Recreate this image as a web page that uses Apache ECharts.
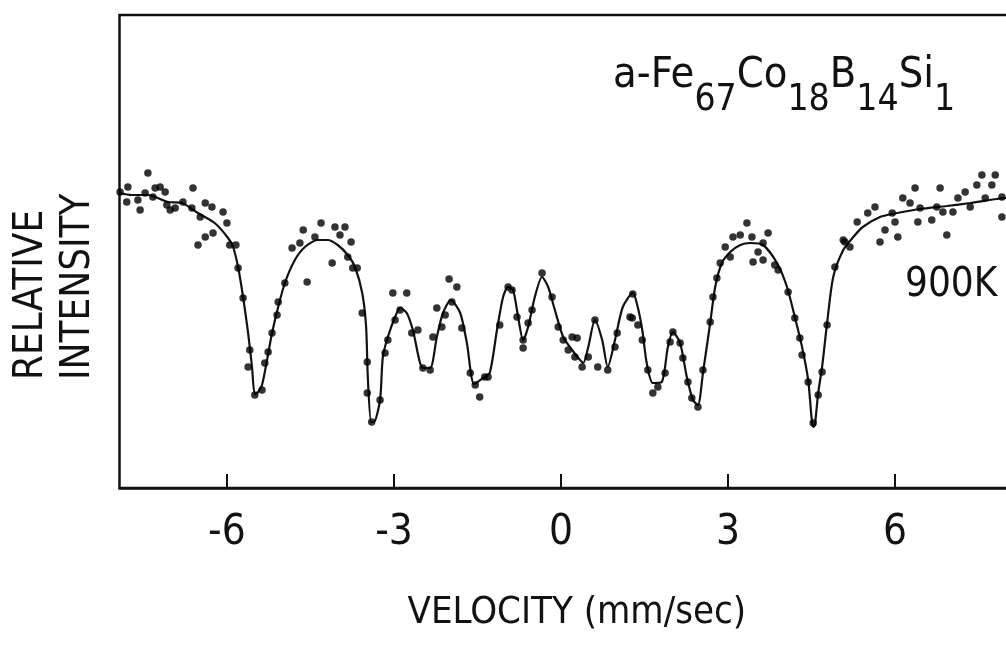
<!DOCTYPE html>
<html>
<head>
<meta charset="utf-8">
<script src="https://cdn.jsdelivr.net/npm/echarts@6/dist/echarts.min.js"></script>
<style>
  html, body { margin: 0; padding: 0; background: #ffffff; }
  #chart { width: 1006px; height: 646px; }
</style>
</head>
<body>
<div id="chart"></div>
<script>
// ---- Data (velocity in mm/s, relative intensity in arbitrary units) ----
const tickValues = [-6, -3, 0, 3, 6];

// fitted curve
const curveV = [-7.93, -7.71, -7.42, -7.06, -6.81, -6.52, -6.22, -5.98, -5.89, -5.80,
  -5.71, -5.62, -5.55, -5.50, -5.44, -5.37, -5.28, -5.19, -5.08, -4.96,
  -4.78, -4.60, -4.37, -4.19, -4.01, -3.83, -3.70, -3.57, -3.50, -3.47,
  -3.41, -3.36, -3.25, -3.20, -3.11, -2.98, -2.89, -2.77, -2.66, -2.48,
  -2.35, -2.23, -2.12, -1.98, -1.81, -1.69, -1.56, -1.40, -1.28, -1.15,
  -1.04, -0.95, -0.86, -0.77, -0.68, -0.59, -0.47, -0.34, -0.23, -0.11,
  0.04, 0.20, 0.31, 0.40, 0.49, 0.61, 0.74, 0.84, 0.97, 1.11,
  1.29, 1.37, 1.46, 1.54, 1.65, 1.81, 1.92, 2.01, 2.14, 2.26,
  2.37, 2.46, 2.55, 2.68, 2.77, 2.89, 3.04, 3.22, 3.40, 3.63,
  3.88, 4.06, 4.20, 4.33, 4.44, 4.53, 4.56, 4.62, 4.69, 4.78,
  4.89, 5.07, 5.25, 5.42, 5.73, 6.04, 6.45, 6.93, 7.35, 7.83,
  8.5];
const curveI = [59.0, 58.6, 58.6, 57.2, 57.0, 55.0, 53.0, 50.0, 48.2, 44.2,
  38.2, 31.0, 24.2, 18.8, 19.2, 20.6, 25.6, 31.0, 36.2, 41.0,
  45.6, 48.2, 49.6, 49.6, 48.6, 46.6, 44.2, 39.0, 32.2, 22.2,
  13.2, 13.2, 17.6, 26.2, 30.2, 34.2, 36.0, 35.0, 31.6, 24.0,
  24.0, 30.2, 35.0, 37.6, 35.0, 29.0, 20.8, 22.0, 23.0, 31.6,
  38.2, 40.2, 39.6, 34.2, 29.6, 32.2, 38.2, 42.2, 40.2, 35.6,
  30.2, 27.6, 26.0, 25.0, 28.2, 33.6, 29.6, 24.2, 29.6, 36.2,
  39.0, 36.6, 31.6, 25.0, 21.0, 21.2, 28.2, 31.2, 29.0, 22.2,
  17.6, 16.6, 23.0, 33.0, 40.2, 45.0, 47.2, 48.6, 49.0, 48.6,
  45.0, 40.2, 34.2, 28.2, 21.6, 12.2, 12.6, 19.0, 24.2, 33.0,
  42.2, 47.6, 50.2, 52.2, 54.2, 55.0, 55.8, 56.4, 57.0, 57.8,
  58.6];

// measured points
const pointsV = [-7.92, -7.78, -7.80, -7.60, -7.56, -7.47, -7.42, -7.33, -7.29, -7.20,
  -7.11, -7.08, -7.02, -6.93, -6.79, -6.63, -6.61, -6.52, -6.48, -6.39,
  -6.39, -6.27, -6.25, -6.07, -6.00, -5.95, -5.84, -5.80, -5.71, -5.62,
  -5.59, -5.50, -5.37, -5.32, -5.26, -5.19, -5.10, -5.08, -4.96, -4.83,
  -4.69, -4.63, -4.56, -4.42, -4.31, -4.11, -4.06, -3.97, -3.88, -3.77,
  -3.83, -3.74, -3.66, -3.57, -3.48, -3.48, -3.40, -3.25, -3.16, -3.11,
  -3.02, -2.98, -2.89, -2.77, -2.68, -2.57, -2.48, -2.35, -2.30, -2.23,
  -2.14, -2.08, -2.01, -1.96, -1.87, -1.78, -1.63, -1.54, -1.46, -1.37,
  -1.31, -1.10, -0.95, -0.88, -0.79, -0.68, -0.68, -0.59, -0.52, -0.34,
  -0.16, -0.05, 0.04, 0.13, 0.20, 0.29, 0.25, 0.38, 0.49, 0.61,
  0.66, 0.84, 0.97, 1.01, 1.24, 1.29, 1.28, 1.38, 1.46, 1.56,
  1.65, 1.74, 1.87, 1.96, 2.01, 2.14, 2.19, 2.28, 2.35, 2.46,
  2.55, 2.68, 2.73, 2.80, 2.86, 2.95, 3.04, 3.09, 3.22, 3.34,
  3.43, 3.45, 3.54, 3.63, 3.63, 3.72, 3.84, 3.90, 4.08, 4.20,
  4.29, 4.33, 4.44, 4.53, 4.62, 4.69, 4.78, 4.92, 5.07, 5.10,
  5.19, 5.32, 5.51, 5.64, 5.73, 5.82, 5.95, 6.00, 6.05, 6.14,
  6.27, 6.36, 6.41, 6.45, 6.66, 6.75, 6.81, 6.86, 6.93, 7.04,
  7.13, 7.26, 7.35, 7.47, 7.56, 7.62, 7.74, 7.80, 7.92, 7.92];
const pointsI = [59.2, 60.2, 57.2, 57.6, 55.6, 59.0, 63.0, 58.2, 60.0, 60.2,
  59.2, 56.6, 55.6, 56.0, 57.2, 56.0, 60.0, 48.6, 54.2, 57.0,
  50.2, 56.2, 51.0, 55.2, 53.0, 48.6, 48.6, 44.0, 38.0, 24.2,
  27.6, 18.6, 19.6, 25.0, 27.2, 31.0, 34.6, 37.2, 41.0, 48.0,
  49.0, 51.6, 41.2, 50.2, 53.0, 45.0, 52.2, 50.6, 52.2, 49.2,
  46.2, 44.0, 44.0, 35.0, 25.2, 19.0, 13.2, 17.6, 27.0, 29.6,
  39.0, 33.6, 35.6, 39.0, 31.0, 31.6, 24.0, 23.6, 30.2, 36.0,
  32.2, 34.6, 41.8, 37.2, 40.2, 32.0, 23.0, 20.6, 18.2, 22.2,
  22.2, 32.6, 40.2, 39.6, 34.2, 29.6, 28.0, 33.0, 35.6, 43.0,
  38.2, 32.2, 29.6, 27.6, 30.2, 30.0, 26.2, 24.2, 26.2, 33.6,
  24.2, 23.6, 28.2, 31.0, 34.2, 38.8, 34.0, 32.6, 29.6, 23.6,
  19.0, 20.2, 23.0, 29.2, 31.2, 29.0, 26.0, 21.2, 18.0, 16.2,
  23.6, 33.2, 38.2, 42.0, 45.0, 48.2, 46.2, 50.2, 50.6, 53.0,
  50.2, 45.2, 47.2, 49.0, 45.6, 51.0, 44.6, 43.6, 39.2, 34.0,
  30.0, 26.6, 21.2, 13.0, 18.6, 23.2, 32.6, 44.2, 49.6, 49.2,
  48.2, 53.2, 55.0, 56.2, 49.2, 51.6, 55.0, 53.2, 50.2, 58.0,
  57.0, 60.0, 53.2, 56.0, 53.6, 56.2, 60.0, 55.2, 50.6, 55.2,
  58.0, 59.2, 56.2, 60.6, 62.6, 58.0, 60.6, 62.6, 58.2, 54.2];

const curveData = curveV.map((v, i) => [v, curveI[i]]);
const pointData = pointsV.map((v, i) => [v, pointsI[i]]);

const FONT = "'Liberation Sans Narrow', 'DejaVu Sans Condensed', 'DejaVu Sans', sans-serif";
const INK = '#141210';

const chart = echarts.init(document.getElementById('chart'), null, { renderer: 'canvas' });
chart.setOption({
  animation: false,
  backgroundColor: '#ffffff',
  title: {
    left: 613,
    top: 54,
    padding: 0,
    text: '{m|a-Fe}{s|67}{m|Co}{s|18}{m|B}{s|14}{m|Si}{s|1}',
    textStyle: {
      fontWeight: 'normal',
      fontStyle: 'normal',
      rich: {
        m: { fontSize: 43, lineHeight: 43, fontWeight: 'normal', fontStyle: 'normal', fontFamily: FONT, color: INK, verticalAlign: 'top' },
        s: { fontSize: 37, lineHeight: 37, fontWeight: 'normal', fontStyle: 'normal', fontFamily: FONT, color: INK, verticalAlign: 'top', padding: [28, 0, 0, 0] }
      }
    }
  },
  graphic: [{
    type: 'text',
    left: 905,
    top: 266,
    style: { text: '900K', fontSize: 40, fontFamily: FONT, fill: INK }
  }, {
    type: 'text',
    x: 8,
    y: 380,
    rotation: Math.PI / 2,
    style: {
      text: 'RELATIVE\nINTENSITY',
      fontSize: 40,
      lineHeight: 47,
      fontFamily: FONT,
      fill: INK,
      align: 'left',
      verticalAlign: 'top'
    }
  }],
  grid: {
    left: 119.5,
    top: 15,
    width: 914.7,
    height: 473,
    outerBoundsMode: 'none',
    containLabel: false,
    show: true,
    borderColor: INK,
    borderWidth: 2.5,
    backgroundColor: 'transparent'
  },
  xAxis: {
    type: 'value',
    min: -7.93,
    max: 8.5,
    name: 'VELOCITY (mm/sec)',
    nameLocation: 'middle',
    nameGap: 106,
    nameTextStyle: { fontSize: 38, fontFamily: FONT, color: INK },
    axisLine: { show: true, lineStyle: { color: INK, width: 2.5 } },
    axisTick: { show: true, inside: true, length: 14, lineStyle: { color: INK, width: 2 }, customValues: tickValues },
    axisLabel: { show: true, margin: 24, fontSize: 42, fontFamily: FONT, color: INK, customValues: tickValues },
    splitLine: { show: false }
  },
  yAxis: {
    type: 'value',
    min: 0,
    max: 94.6,
    axisLine: { show: false },
    axisTick: { show: false },
    axisLabel: { show: false },
    splitLine: { show: false }
  },
  series: [{
    name: 'fit',
    type: 'line',
    data: curveData,
    smooth: 0.25,
    showSymbol: false,
    lineStyle: { color: INK, width: 2.2 },
    z: 2
  }, {
    name: 'measured',
    type: 'scatter',
    data: pointData,
    symbol: 'circle',
    symbolSize: 7.5,
    itemStyle: { color: '#000000' },
    z: 3
  }]
});
</script>
</body>
</html>
